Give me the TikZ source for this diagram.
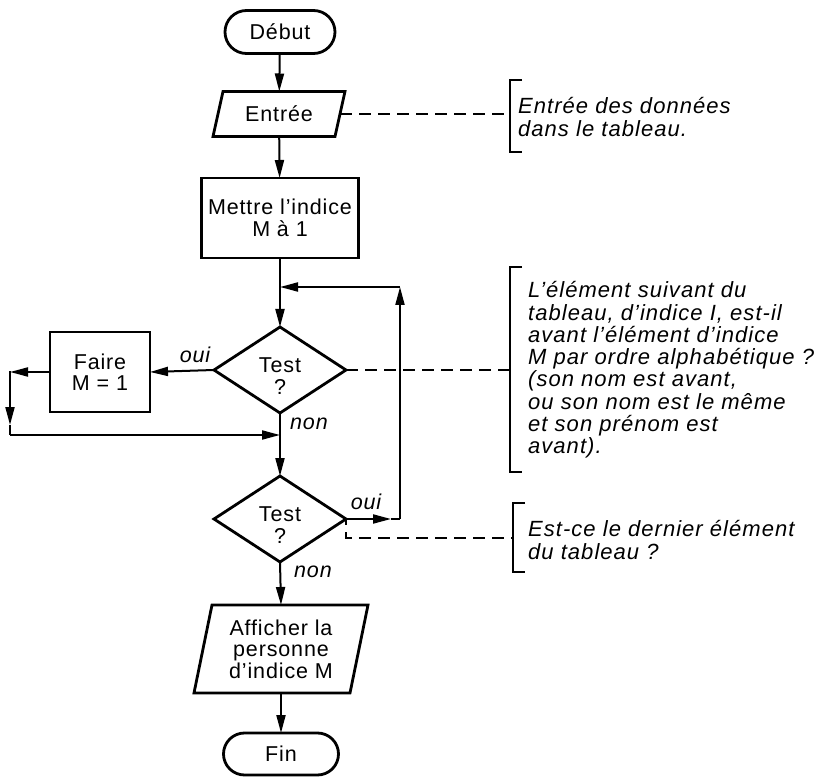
\documentclass[tikz,border=0pt]{standalone}
\usepackage{fontspec}
\setmainfont{Liberation Sans}[LetterSpace=4]
\newfontfamily\notefont{Liberation Sans}[LetterSpace=4.7]
\usetikzlibrary{arrows.meta,shapes.misc,shapes.geometric}
\begin{document}
\begin{tikzpicture}[x=1pt,y=-1pt,
  base/.style={inner sep=0pt, outer sep=0pt, font=\fontsize{21.5}{21.5}\selectfont, align=center},
  term/.style={base, draw, line width=2.8pt, rounded rectangle, minimum width=110pt, minimum height=43pt},
  procbox/.style={base, draw, line width=2.8pt, rectangle},
  iobox/.style={base, rectangle},
  diam/.style={base, draw, line width=2.8pt, diamond, minimum width=132pt, minimum height=86pt},
  iodraw/.style={line width=2.8pt, line join=miter},
  conn/.style={line width=2pt},
  arr/.style={-{Triangle[length=18pt,width=9pt]}},
  lbl/.style={inner sep=0pt, font=\fontsize{21.5}{21.5}\selectfont\itshape},
  note/.style={inner sep=0pt, align=left, font=\notefont\fontsize{22}{22.3}\selectfont\itshape},
  brk/.style={line width=2pt},
  dsh/.style={line width=1.6pt, dash pattern=on 12pt off 7pt},
]
\useasboundingbox (0,0) rectangle (828,778);

% main column
\node[term] (debut) at (280,32) {Début};
\node[iobox, minimum width=122pt, minimum height=45pt] (entree) at (279,114) {Entrée};
\draw[iodraw] ([xshift=5pt]entree.north west) -- ([xshift=5pt]entree.north east)
  -- ([xshift=-5pt]entree.south east) -- ([xshift=-5pt]entree.south west) -- cycle;
\node[procbox, minimum width=157pt, minimum height=80pt] (mettre) at (280,218) {Mettre l’indice\\M à 1};
\node[diam] (t1) at (280,370) {};
\node[base] (t1txt) at (280,376) {Test\\?};
\node[procbox, minimum width=100pt, minimum height=80pt] (faire) at (100,372) {Faire\\M = 1};
\node[diam] (t2) at (280,519) {};
\node[base] (t2txt) at (280,525) {Test\\?};
\node[iobox, minimum width=156pt, minimum height=88pt] (affich) at (281,649) {Afficher la\\personne\\d’indice M};
\draw[iodraw] ([xshift=9pt]affich.north west) -- ([xshift=9pt]affich.north east)
  -- ([xshift=-9pt]affich.south east) -- ([xshift=-9pt]affich.south west) -- cycle;
\node[term, minimum width=115pt, minimum height=42pt] (fin) at (281,754) {Fin};

% coordinates
\coordinate (j1) at (280,287);
\coordinate (r1) at (400,287);
\coordinate (r2) at (400,519);
\coordinate (r2a) at (391,519);
\coordinate (fl) at (10,372);
\coordinate (fd) at (10,425);
\coordinate (fb) at (10,435);
\coordinate (jn) at (280,435);

% connectors
\draw[conn,arr] (debut) -- (entree);
\draw[conn,arr] (entree) -- (mettre);
\draw[conn,arr] (mettre) -- (t1);
\draw[conn,arr] (t1.west) -- (faire.east);
\draw[conn,arr] (faire.west) -- (fl);
\draw[conn,arr,line cap=rect] (fl) -- (fd);
\draw[conn] (fd) -- (fb);
\draw[conn,arr] (fb) -- (jn);
\draw[conn,arr] (t1.south) -- (t2.north);
\draw[conn,arr] (t2.east) -- (r2a);
\draw[conn] (r2a) -- (r2);
\draw[conn,arr] (r2) -- (r1);
\draw[conn,arr] (r1) -- (j1);
\draw[conn,arr] (t2.south) -- (affich.north);
\draw[conn,arr] (affich.south) -- (fin.north);

% labels
\node[lbl] (oui1) at (195,355) {oui};
\node[lbl] (non1) at (309,424) {non};
\node[lbl] (oui2) at (366,502) {oui};
\node[lbl] (non2) at (313,572) {non};

% annotations
\coordinate (b1m) at (510,114);
\draw[brk] (522,80) -- (510,80) -- (510,152) -- (522,152);
\node[note, anchor=west] (n1) at (518,117) {Entrée des données\\dans le tableau.};
\draw[dsh] (entree.east) -- (b1m);

\coordinate (b2m) at (510,370);
\draw[brk] (522,267) -- (510,267) -- (510,472) -- (522,472);
\node[note, anchor=west] (n2) at (528,370) {L’élément suivant du\\tableau, d’indice I, est-il\\avant l’élément d’indice\\M par ordre alphabétique ?\\(son nom est avant,\\ou son nom est le même\\et son prénom est\\avant).};
\draw[dsh] (t1.east) -- (b2m);

\coordinate (b3m) at (513,538);
\draw[brk] (525,503) -- (513,503) -- (513,572) -- (525,572);
\node[note, anchor=west] (n3) at (528,540) {Est-ce le dernier élément\\du tableau ?};
\draw[dsh, dash phase=6pt] (t2.east) |- (b3m);
\end{tikzpicture}
\end{document}
